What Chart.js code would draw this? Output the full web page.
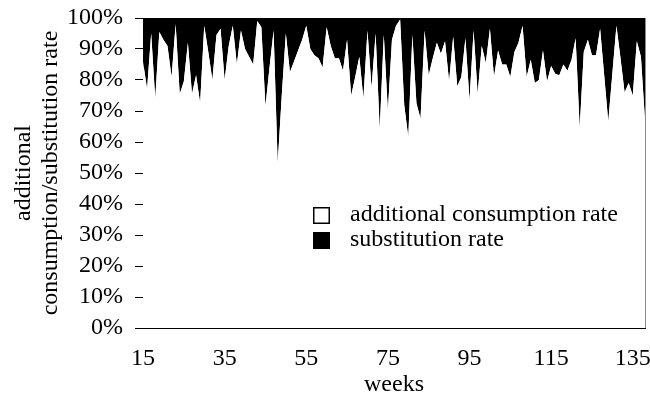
<!DOCTYPE html>
<html>
<head>
<meta charset="utf-8">
<script src="https://cdn.jsdelivr.net/npm/chart.js@4.4.1/dist/chart.umd.min.js"></script>
<style>
  html, body { margin: 0; padding: 0; background: #fff; }
  #wrap { width: 650px; height: 414px; }
</style>
</head>
<body>
<div id="wrap"><canvas id="rateChart" width="650" height="414"></canvas></div>
<script>
// weeks on the x axis
const weeks = [
  15, 16, 17, 18, 19, 20, 21, 22, 23, 24, 25, 26, 27, 28, 29, 30, 31, 32, 33, 34,
  35, 36, 37, 38, 39, 40, 41, 42, 43, 44, 45, 46, 47, 48, 49, 50, 51, 52, 53, 54,
  55, 56, 57, 58, 59, 60, 61, 62, 63, 64, 65, 66, 67, 68, 69, 70, 71, 72, 73, 74,
  75, 76, 77, 78, 79, 80, 81, 82, 83, 84, 85, 86, 87, 88, 89, 90, 91, 92, 93, 94,
  95, 96, 97, 98, 99, 100, 101, 102, 103, 104, 105, 106, 107, 108, 109, 110, 111, 112, 113, 114,
  115, 116, 117, 118, 119, 120, 121, 122, 123, 124, 125, 126, 127, 128, 129, 130, 131, 132, 133, 134,
  135, 136, 137, 138
];

// share (%) of additional consumption - white area
const additionalRate = [
  86, 77, 95, 74, 95.5, 93, 91, 81, 98, 75.5, 79.5, 92, 75.5, 81.5, 72.5, 97.5, 89, 80, 94.5, 96.5,
  80, 91, 97.5, 85, 96, 90, 87.5, 85, 99, 97, 71.5, 84, 96, 53, 75, 95, 82.5, 86, 89.5, 93,
  97.5, 90, 88, 87, 84, 97, 91, 87, 87, 83, 93, 75, 81, 87.5, 74, 96, 77.5, 95, 64, 94.5,
  70, 93, 97.5, 99.5, 72, 61.5, 94.5, 72.5, 67.5, 96, 81.5, 87, 92, 88.5, 92.5, 79.5, 94, 78, 81, 93.5,
  73.5, 96, 75.5, 91, 85.5, 96.5, 81, 89.5, 85, 85, 81, 89, 92, 97.5, 81, 86.5, 79, 80, 89.5, 79.5,
  84.5, 82, 81.5, 85, 83, 86.5, 93.5, 64.5, 89, 93, 88, 88, 96.5, 81.5, 66.5, 82, 97.5, 87, 76, 79,
  75, 92.5, 87.5, 67
];

// share (%) of substitution - black area
const substitutionRate = [
  14, 23, 5, 26, 4.5, 7, 9, 19, 2, 24.5, 20.5, 8, 24.5, 18.5, 27.5, 2.5, 11, 20, 5.5, 3.5,
  20, 9, 2.5, 15, 4, 10, 12.5, 15, 1, 3, 28.5, 16, 4, 47, 25, 5, 17.5, 14, 10.5, 7,
  2.5, 10, 12, 13, 16, 3, 9, 13, 13, 17, 7, 25, 19, 12.5, 26, 4, 22.5, 5, 36, 5.5,
  30, 7, 2.5, 0.5, 28, 38.5, 5.5, 27.5, 32.5, 4, 18.5, 13, 8, 11.5, 7.5, 20.5, 6, 22, 19, 6.5,
  26.5, 4, 24.5, 9, 14.5, 3.5, 19, 10.5, 15, 15, 19, 11, 8, 2.5, 19, 13.5, 21, 20, 10.5, 20.5,
  15.5, 18, 18.5, 15, 17, 13.5, 6.5, 35.5, 11, 7, 12, 12, 3.5, 18.5, 33.5, 18, 2.5, 13, 24, 21,
  25, 7.5, 12.5, 33
];

// labelled weeks and y ticks
const tickWeeks = [15, 35, 55, 75, 95, 115, 135];
const yTicks = [0, 10, 20, 30, 40, 50, 60, 70, 80, 90, 100];

const FONT = '"Liberation Serif", "Times New Roman", serif';
const FONT_SIZE = 24;

Chart.defaults.font.family = FONT;
Chart.defaults.font.size = FONT_SIZE;
Chart.defaults.color = '#000';

/**
 * Legend drawn inside the plot area + grey right frame line
 */
const insideLegend = {
    id: 'insideLegend',
    afterDraw(chart) {
        const ctx = chart.ctx;
        const area = chart.chartArea;

        // right frame line
        ctx.save();
        ctx.strokeStyle = '#8c8c8c';
        ctx.lineWidth = 1;
        ctx.beginPath();
        ctx.moveTo(area.right + 0.5, area.top);
        ctx.lineTo(area.right + 0.5, area.bottom);
        ctx.stroke();

        // legend entries
        const boxX = area.left + 170;
        const textX = area.left + 207;
        const rows = [area.top + 197, area.top + 222];
        ctx.font = FONT_SIZE + 'px ' + FONT;
        ctx.textBaseline = 'middle';
        ctx.textAlign = 'left';
        chart.data.datasets.forEach(function (ds, i) {
            const cy = rows[i];
            ctx.fillStyle = ds.backgroundColor;
            ctx.fillRect(boxX, cy - 8, 17, 17);
            ctx.strokeStyle = '#000';
            ctx.lineWidth = 1.5;
            ctx.strokeRect(boxX + 0.75, cy - 7.25, 15.5, 15.5);
            ctx.fillStyle = '#000';
            ctx.fillText(ds.label, textX, cy);
        });
        ctx.restore();
    }
};

function initRateChart() {
    const ctx = document.getElementById('rateChart');
    if (!ctx) return;

    new Chart(ctx, {
        type: 'line',
        data: {
            labels: weeks,
            datasets: [{
                label: 'additional consumption rate',
                data: additionalRate,
                fill: 'origin',
                backgroundColor: '#ffffff',
                borderWidth: 0,
                pointRadius: 0,
                tension: 0
            }, {
                label: 'substitution rate',
                data: substitutionRate,
                fill: '-1',
                backgroundColor: '#000000',
                borderWidth: 0,
                pointRadius: 0,
                tension: 0
            }]
        },
        options: {
            responsive: false,
            animation: false,
            layout: {
                padding: { left: 0, right: 5, top: 18, bottom: 0 }
            },
            plugins: {
                legend: { display: false },
                tooltip: { enabled: false }
            },
            scales: {
                x: {
                    type: 'category',
                    offset: false,
                    z: 1,
                    grid: { display: false, drawTicks: false },
                    border: { display: true, color: '#000', width: 1 },
                    ticks: {
                        autoSkip: false,
                        maxRotation: 0,
                        padding: 16,
                        callback: function (value) {
                            const w = weeks[value];
                            return tickWeeks.includes(w) ? String(w) : '';
                        }
                    },
                    title: {
                        display: true,
                        text: 'weeks',
                        padding: { top: 0, bottom: 15 }
                    },
                    afterFit: function (scale) {
                        scale.height = 86;
                        scale.paddingLeft = 0;
                        scale.paddingRight = 0;
                    }
                },
                y: {
                    stacked: true,
                    min: 0,
                    max: 100,
                    z: 1,
                    grid: {
                        drawOnChartArea: false,
                        drawTicks: true,
                        tickLength: 8,
                        color: '#000'
                    },
                    border: { display: true, color: '#000', width: 1 },
                    ticks: {
                        stepSize: 10,
                        autoSkip: false,
                        padding: 12,
                        callback: function (value) {
                            return yTicks.includes(value) ? value + '%' : '';
                        }
                    },
                    title: {
                        display: true,
                        text: ['additional', 'consumption/substitution rate'],
                        font: { size: FONT_SIZE, lineHeight: 1.1 },
                        padding: { top: 11, bottom: 0 }
                    },
                    afterFit: function (scale) {
                        scale.width = 143;
                        scale.paddingTop = 0;
                        scale.paddingBottom = 0;
                    }
                }
            }
        },
        plugins: [insideLegend]
    });
}

document.addEventListener('DOMContentLoaded', function () {
    try {
        initRateChart();
    } catch (error) {
        console.error('Error drawing chart:', error);
    }
});
</script>
</body>
</html>
